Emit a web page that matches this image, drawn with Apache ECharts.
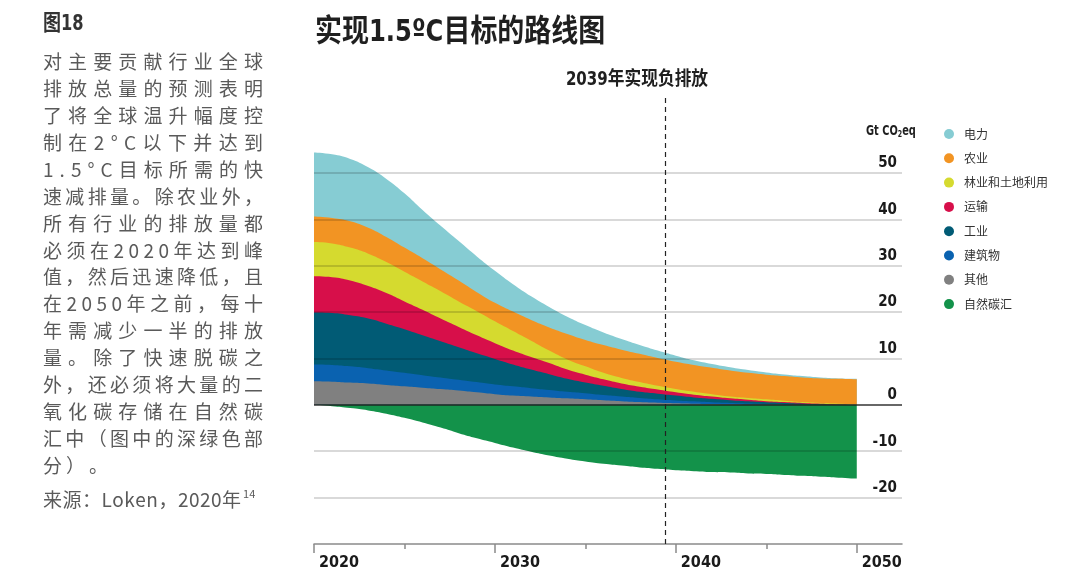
<!DOCTYPE html>
<html><head><meta charset="utf-8">
<script src="https://cdn.jsdelivr.net/npm/echarts@6/dist/echarts.min.js"></script>
<style>html,body{margin:0;padding:0;background:#fff;}#c{width:1080px;height:587px;}</style>
</head><body><div id="c"></div>
<script>
// ---------- data ----------
const years = [2020,2021,2022,2023,2024,2025,2026,2027,2028,2029,2030,2031,2032,2033,2034,2035,2036,2037,2038,2039,2040,2041,2042,2043,2044,2045,2046,2047,2048,2049,2050];
const other       = [5.1,5.0,4.8,4.6,4.3,4.0,3.7,3.4,3.1,2.7,2.3,2.0,1.8,1.6,1.4,1.2,1.0,0.8,0.6,0.45,0.35,0.25,0.18,0.12,0.08,0.05,0.03,0.02,0.01,0.01,0];
const buildings   = [3.6,3.6,3.5,3.3,3.1,2.9,2.7,2.5,2.3,2.2,2.1,2.0,1.8,1.6,1.4,1.3,1.1,1.0,0.9,0.75,0.6,0.5,0.37,0.28,0.22,0.15,0.09,0.05,0.03,0.01,0.01];
const industry    = [11.2,11.2,11.0,10.7,10.1,9.4,8.6,7.8,7.0,6.2,5.5,4.7,4.0,3.4,2.8,2.3,2.0,1.6,1.3,1.2,1.05,0.85,0.75,0.6,0.45,0.35,0.28,0.18,0.11,0.06,0.04];
const transport   = [7.8,7.7,7.5,7.0,6.6,6.0,5.5,4.9,4.4,3.9,3.4,3.0,2.7,2.4,2.0,1.7,1.4,1.2,1.1,0.9,0.7,0.6,0.5,0.4,0.35,0.25,0.2,0.15,0.1,0.07,0.05];
const forestry    = [7.4,7.3,7.1,7.0,6.7,6.4,6.1,5.9,5.5,5.2,4.7,4.2,3.5,2.7,2.2,1.8,1.4,1.2,1.0,0.8,0.7,0.6,0.5,0.4,0.4,0.4,0.3,0.2,0.15,0.1,0.05];
const agriculture = [5.5,5.5,5.7,5.6,5.4,5.2,5.0,4.7,4.5,4.1,4.0,4.2,4.5,5.0,5.5,5.7,6.0,6.1,6.1,6.0,5.9,5.8,5.7,5.6,5.4,5.3,5.3,5.3,5.3,5.35,5.35];
const power       = [13.8,13.7,13.4,13.0,12.5,11.7,10.4,9.4,8.5,7.7,6.9,5.9,5.1,4.4,3.7,3.2,2.7,2.3,1.9,1.6,1.3,1.0,0.8,0.7,0.6,0.5,0.35,0.3,0.2,0.1,0.1];
const sinks       = [0,-0.3,-0.7,-1.2,-1.9,-2.8,-3.8,-4.9,-6.1,-7.2,-8.2,-9.2,-10.1,-10.9,-11.6,-12.2,-12.7,-13.1,-13.5,-13.8,-14.1,-14.3,-14.5,-14.6,-14.8,-14.9,-15.1,-15.3,-15.5,-15.7,-15.9];

const legendOrder = ['电力','农业','林业和土地利用','运输','工业','建筑物','其他','自然碳汇'];
const xTickLabels = [2020,2030,2040,2050];
const xMinorTicks = [2025,2035,2045];
const yTickLabels = [-20,-10,0,10,20,30,40,50];
const negEmissionYear = 2039.4;

const titleText = '实现1.5ºC目标的路线图';
const annotText = '2039年实现负排放';
const figLabel = '图18';
const paragraphLines = [
  '对主要贡献行业全球',
  '排放总量的预测表明',
  '了将全球温升幅度控',
  '制在2°C以下并达到',
  '1.5°C目标所需的快',
  '速减排量。除农业外，',
  '所有行业的排放量都',
  '必须在2020年达到峰',
  '值，然后迅速降低，且',
  '在2050年之前，每十',
  '年需减少一半的排放',
  '量。除了快速脱碳之',
  '外，还必须将大量的二',
  '氧化碳存储在自然碳',
  '汇中（图中的深绿色部',
  '分）。'
];
const sourceText = '来源：Loken，2020年';
const sourceSup = '14';

// ---------- styles ----------
const NARROW = '"Liberation Sans Narrow","DejaVu Sans Condensed","Noto Sans CJK SC",sans-serif';
const CJK = '"Noto Sans CJK SC","Noto Sans",sans-serif';
const colors = {
  '电力':'#86CCD3','农业':'#F29423','林业和土地利用':'#D5DA2F','运输':'#D70F4A',
  '工业':'#015B75','建筑物':'#0A62B0','其他':'#808080','自然碳汇':'#13924A'
};
// bottom -> top
const stackSeries = [
  ['其他', other], ['建筑物', buildings], ['工业', industry], ['运输', transport],
  ['林业和土地利用', forestry], ['农业', agriculture], ['电力', power]
];

// ---------- paragraph layout (justified, per character) ----------
const mctx = document.createElement('canvas').getContext('2d');
function textEl(x, y, text, font, fill, align, sx) {
  const el = {type:'text', x:x, y:y, silent:true,
    style:{text:text, font:font, fill:fill, textAlign:align||'left', align:align||'left',
           textVerticalAlign:'middle', verticalAlign:'middle'}};
  if (sx) { el.scaleX = sx; }
  return el;
}
function layoutLine(line, x0, width, y, font, fill, justify, spacing) {
  mctx.font = font;
  const chars = Array.from(line);
  const widths = chars.map(c => mctx.measureText(c).width);
  const total = widths.reduce((a,b)=>a+b,0);
  const gap = (justify && chars.length > 1) ? (width - total)/(chars.length-1) : spacing;
  const els = [];
  let x = x0;
  chars.forEach((c,i) => { els.push(textEl(x, y, c, font, fill)); x += widths[i] + gap; });
  return {els, end: x - gap};
}
const paraFont = '19px ' + CJK;
const paraColor = '#5a5a5a';
let graphics = [];
paragraphLines.forEach((ln, i) => {
  const last = i === paragraphLines.length - 1;
  graphics = graphics.concat(layoutLine(ln, 43, 220, 62 + i*26.9, paraFont, paraColor, !last, 4).els);
});
const src = layoutLine(sourceText, 43, 0, 500, paraFont, paraColor, false, 0.5);
graphics = graphics.concat(src.els);
graphics.push(textEl(src.end + 2, 494, sourceSup, '11px ' + CJK, paraColor));

graphics.push(textEl(43, 24, figLabel, 'bold 22px ' + NARROW, '#333', 'left', 0.82));
graphics.push(textEl(315, 33, titleText, 'bold 31px ' + NARROW, '#1f1f1f', 'left', 0.87));
graphics.push(textEl(637, 80, annotText, 'bold 19px ' + NARROW, '#1f1f1f', 'center', 0.88));
graphics.push({type:'text', x:866, y:131, silent:true, scaleX:0.78,
  style:{text:'{a|Gt CO}{s|2}{a|eq}', textVerticalAlign:'middle', verticalAlign:'middle',
    rich:{a:{font:'bold 14px ' + NARROW, fill:'#1f1f1f', color:'#1f1f1f'},
          s:{font:'bold 9px ' + NARROW, fill:'#1f1f1f', color:'#1f1f1f', padding:[8,0,0,0]}}}});

// ---------- series: cumulative tops, drawn top-first so lower bands overlay ----------
let running = years.map(() => 0);
const layers = stackSeries.map(([name, vals]) => {
  running = running.map((r,i) => r + vals[i]);
  return [name, running.slice()];
});
const series = layers.slice().reverse().map(([name, tops]) => ({
  name, type:'line', smooth:true, symbol:'none', showSymbol:false,
  lineStyle:{width:0}, itemStyle:{color:colors[name]},
  areaStyle:{color:colors[name], opacity:1}, emphasis:{disabled:true},
  data: years.map((y,i) => [y, tops[i]])
}));
series.push({
  name:'自然碳汇', type:'line', smooth:true, symbol:'none', showSymbol:false, z:3,
  lineStyle:{width:0}, itemStyle:{color:colors['自然碳汇']},
  areaStyle:{color:colors['自然碳汇'], opacity:1}, emphasis:{disabled:true},
  data: years.map((y,i) => [y, sinks[i]]),
  markLine:{
    silent:true, symbol:['none','none'], label:{show:false}, animation:false,
    data: yTickLabels.map(v => ({yAxis:v, lineStyle:{
        color: v === 0 ? 'rgba(30,30,30,0.9)' : 'rgba(0,0,0,0.2)', width:1.5, type:'solid'}}))
      .concat([{xAxis:negEmissionYear, lineStyle:{color:'#222', width:1.2, type:[5,4]}}])
  }
});

const chart = echarts.init(document.getElementById('c'), null, {renderer:'canvas'});
chart.setOption({
  animation:false,
  backgroundColor:'#fff',
  grid:{left:314, right:178, top:95, bottom:43, containLabel:false},
  legend:{
    orient:'vertical', left:939, top:122, itemWidth:20, itemHeight:10, itemGap:10.3,
    icon:'circle', data:legendOrder, selectedMode:false,
    textStyle:{fontSize:12, color:'#333', fontFamily:CJK, lineHeight:14}
  },
  xAxis:[{
    type:'value', min:2020, max:2052.5, interval:10, position:'bottom',
    splitLine:{show:false},
    axisLine:{show:true, onZero:false, lineStyle:{color:'#8a8a8a', width:1.5}},
    axisTick:{show:true, length:9, customValues:xTickLabels, lineStyle:{color:'#8a8a8a', width:1.5}},
    axisLabel:{customValues:xTickLabels, align:'left', padding:[0,0,0,5], margin:11,
      fontFamily:NARROW, fontWeight:'bold', fontSize:16, color:'#1a1a1a',
      formatter: v => xTickLabels.includes(v) ? String(v) : ''}
  },{
    type:'value', min:2020, max:2052.5, interval:5, position:'bottom',
    splitLine:{show:false}, axisLine:{show:false, onZero:false},
    axisTick:{show:true, length:5, customValues:xMinorTicks, lineStyle:{color:'#8a8a8a', width:1.5}},
    axisLabel:{show:false}
  }],
  yAxis:{
    type:'value', position:'right', min:-30, max:66.8, interval:10,
    splitLine:{show:false}, axisLine:{show:false}, axisTick:{show:false},
    axisLabel:{inside:true, margin:5, verticalAlign:'bottom', padding:[0,0,2,0],
      fontFamily:NARROW, fontWeight:'bold', fontSize:15, color:'#1a1a1a',
      formatter: v => yTickLabels.includes(v) ? String(v) : ''}
  },
  series: series,
  graphic: graphics
});
</script></body></html>
